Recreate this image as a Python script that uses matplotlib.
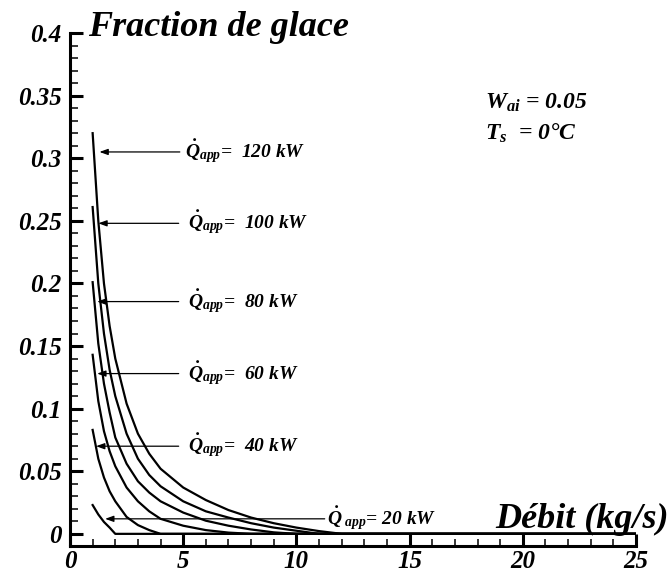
import matplotlib
matplotlib.use("Agg")
import matplotlib.pyplot as plt
from matplotlib.ticker import FixedLocator, FixedFormatter, MultipleLocator

# --- Data ---
debit = [1, 1.25, 1.5, 1.75, 2, 2.5, 3, 3.5, 4, 5, 6, 7, 8, 9, 10, 11, 12, 25]

frac_120 = [0.320, 0.250, 0.200, 0.166, 0.140, 0.104, 0.080, 0.064, 0.052, 0.037,
            0.027, 0.019, 0.013, 0.0085, 0.005, 0.0022, 0.0, 0.0]
frac_100 = [0.261, 0.200, 0.160, 0.131, 0.110, 0.080, 0.060, 0.047, 0.038, 0.026,
            0.018, 0.013, 0.0085, 0.005, 0.0025, 0.0, 0.0, 0.0]
frac_80 = [0.201, 0.152, 0.120, 0.097, 0.077, 0.056, 0.042, 0.033, 0.026, 0.017,
           0.0105, 0.0065, 0.0035, 0.0012, 0.0, 0.0, 0.0, 0.0]
frac_60 = [0.143, 0.106, 0.082, 0.066, 0.054, 0.037, 0.026, 0.018, 0.012, 0.0065,
           0.003, 0.001, 0.0, 0.0, 0.0, 0.0, 0.0, 0.0]
frac_40 = [0.083, 0.060, 0.045, 0.034, 0.026, 0.0135, 0.007, 0.003, 0.0, 0.0,
           0.0, 0.0, 0.0, 0.0, 0.0, 0.0, 0.0, 0.0]
frac_20 = [0.023, 0.0155, 0.0095, 0.005, 0.0, 0.0, 0.0, 0.0, 0.0, 0.0,
           0.0, 0.0, 0.0, 0.0, 0.0, 0.0, 0.0, 0.0]

series = [frac_120, frac_100, frac_80, frac_60, frac_40, frac_20]

puissances = ["120", "100", "80", "60", "40", "20"]
arrow_y = [0.305, 0.248, 0.1855, 0.128, 0.070, 0.012]
arrow_tip_x = [1.3, 1.25, 1.2, 1.2, 1.15, 1.55]
arrow_tail_x = [4.85, 4.8, 4.8, 4.8, 4.8, 11.25]
label_x = [5.1, 5.2, 5.2, 5.2, 5.2, 11.35]

x_ticks = [0, 5, 10, 15, 20, 25]
x_tick_labels = ["0", "5", "10", "15", "20", "25"]
y_ticks = [0, 0.05, 0.1, 0.15, 0.2, 0.25, 0.3, 0.35, 0.4]
y_tick_labels = ["0", "0.05", "0.1", "0.15", "0.2", "0.25", "0.3", "0.35", "0.4"]

# --- Style: Tecplot-like bold italic serif ---
plt.rcParams["font.family"] = ["Liberation Serif", "DejaVu Serif"]
plt.rcParams["font.weight"] = "bold"
plt.rcParams["font.style"] = "italic"
plt.rcParams["mathtext.fontset"] = "custom"
plt.rcParams["mathtext.rm"] = "Liberation Serif:bold:italic"
plt.rcParams["mathtext.it"] = "Liberation Serif:bold:italic"
plt.rcParams["mathtext.bf"] = "Liberation Serif:bold:italic"

W, H = 672, 572
fig = plt.figure(figsize=(W / 100, H / 100), dpi=100)
ax = fig.add_axes([70 / W, 1 - 546 / H, (636 - 70) / W, (546 - 33) / H])

for vals in series:
    ax.plot(debit, vals, color="black", lw=1.6, solid_joinstyle="round")

ax.set_xlim(0, 25)
ax.set_ylim(-0.0097, 0.4)

for sp in ["top", "right"]:
    ax.spines[sp].set_visible(False)
for sp in ["left", "bottom"]:
    ax.spines[sp].set_linewidth(2.2)

ax.xaxis.set_major_locator(FixedLocator(x_ticks))
ax.xaxis.set_major_formatter(FixedFormatter(x_tick_labels))
ax.xaxis.set_minor_locator(MultipleLocator(1))
ax.yaxis.set_major_locator(FixedLocator(y_ticks))
ax.yaxis.set_major_formatter(FixedFormatter(y_tick_labels))
ax.yaxis.set_minor_locator(MultipleLocator(0.01))

ax.tick_params(axis="x", which="major", direction="in", length=8.6, width=2.2,
               pad=3, labelsize=18)
ax.tick_params(axis="x", which="minor", direction="in", length=5, width=1.1)
ax.tick_params(axis="y", which="major", direction="in", length=9.4, width=2.2,
               pad=6, labelsize=18)
ax.tick_params(axis="y", which="minor", direction="in", length=5.8, width=1.1)

# --- Arrows and power labels ---
for p, y, tip, tail, lx in zip(puissances, arrow_y, arrow_tip_x, arrow_tail_x, label_x):
    ax.annotate("", xy=(tip, y), xytext=(tail, y),
                arrowprops=dict(arrowstyle="-|>,head_length=0.5,head_width=0.18",
                                color="black", lw=0.9, shrinkA=0, shrinkB=0))
    if p == "20":
        lab = r"$\dot{Q}_{\ app}$= " + p + " kW"
    else:
        lab = r"$\dot{Q}_{app}$=  " + p + " kW"
    ax.text(lx, y, lab, fontsize=14, va="center", ha="left")

# --- Axis titles and conditions ---
fig.text(88 / W, 1 - 36 / H, "Fraction de glace", fontsize=26, va="baseline", ha="left")
fig.text(495 / W, 1 - 528 / H, "Débit (kg/s)", fontsize=26, va="baseline", ha="left")
fig.text(485 / W, 1 - 109 / H, r"$W_{ai}$ = 0.05", fontsize=17, va="baseline", ha="left")
fig.text(485 / W, 1 - 140 / H, r"$T_s$  = 0°C", fontsize=17, va="baseline", ha="left")

fig.savefig("out.png", dpi=100)
